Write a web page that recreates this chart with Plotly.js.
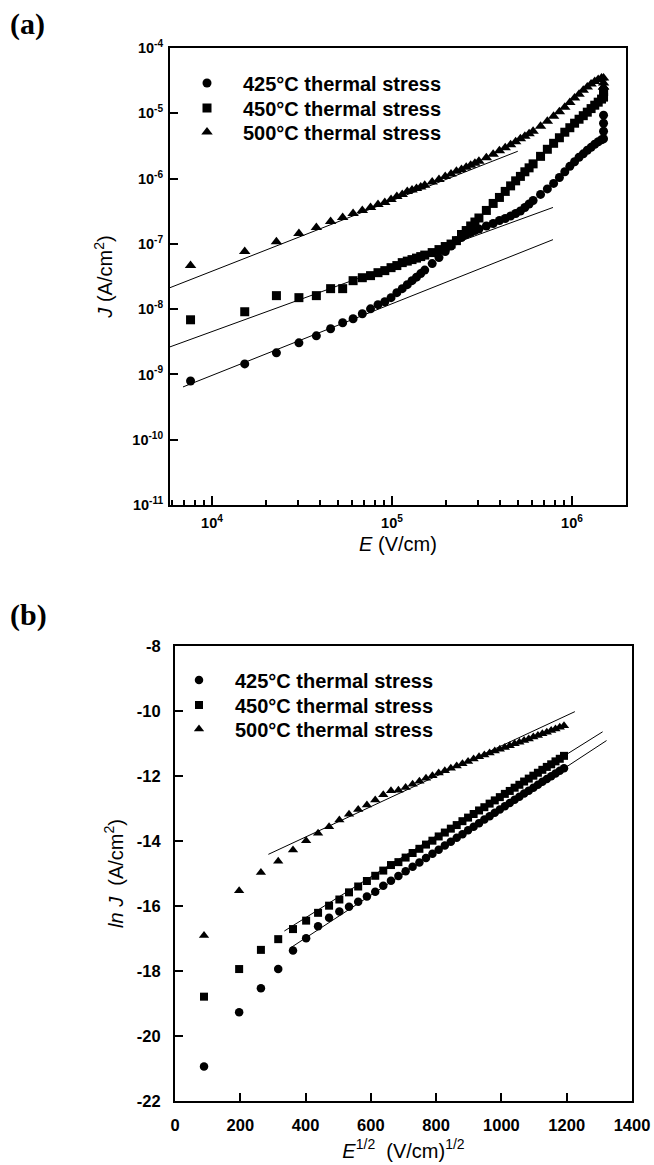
<!DOCTYPE html>
<html><head><meta charset="utf-8">
<script src="https://cdn.plot.ly/plotly-3.0.1.min.js"></script>
<style>html,body{margin:0;padding:0;background:#fff}</style>
</head><body>
<div id="chart" style="width:654px;height:1165px"></div>
<script>
// ---------- series names ----------
const seriesNames = ['425\u00B0C thermal stress', '450\u00B0C thermal stress', '500\u00B0C thermal stress'];

// ---------- panel (a): J vs E (log-log) ----------
const E_a = [7600, 15200, 22800, 30400, 38000, 45600, 53200, 60800, 68400, 76000,
  83600, 91200, 98800, 106400, 114000, 121600, 129200, 136800, 144400, 152000,
  167200, 182400, 197600, 212800, 228000, 243200, 258400, 273600, 288800, 304000,
  334400, 364800, 395200, 425600, 456000, 486400, 516800, 547200, 577600, 608000,
  668800, 729600, 790400, 851200, 912000, 972800, 1033600, 1094400, 1155200, 1216000,
  1276800, 1337600, 1398400, 1459200, 1497200];
const J425_a = [7.94e-10, 1.45e-9, 2.14e-9, 3.05e-9, 3.90e-9, 5.00e-9, 6.18e-9, 7.13e-9, 8.49e-9, 1.01e-8,
  1.17e-8, 1.30e-8, 1.50e-8, 1.79e-8, 2.06e-8, 2.37e-8, 2.73e-8, 3.09e-8, 3.50e-8, 3.96e-8,
  4.98e-8, 6.16e-8, 7.62e-8, 9.25e-8, 1.12e-7, 1.25e-7, 1.39e-7, 1.49e-7, 1.60e-7, 1.69e-7,
  1.88e-7, 2.05e-7, 2.28e-7, 2.45e-7, 2.67e-7, 2.92e-7, 3.19e-7, 3.61e-7, 4.08e-7, 4.62e-7,
  5.72e-7, 6.95e-7, 8.44e-7, 1.04e-6, 1.27e-6, 1.54e-6, 1.81e-6, 2.12e-6, 2.39e-6, 2.71e-6,
  3.01e-6, 3.35e-6, 3.66e-6, 3.93e-6, 4.07e-6];
const J450_a = [6.87e-9, 9.12e-9, 1.61e-8, 1.50e-8, 1.61e-8, 2.06e-8, 2.06e-8, 2.73e-8, 3.03e-8, 3.26e-8,
  3.62e-8, 3.89e-8, 4.32e-8, 4.65e-8, 5.16e-8, 5.44e-8, 5.74e-8, 6.05e-8, 6.38e-8, 6.73e-8,
  7.35e-8, 8.17e-8, 9.10e-8, 9.93e-8, 1.12e-7, 1.39e-7, 1.60e-7, 1.88e-7, 2.16e-7, 2.49e-7,
  3.25e-7, 4.16e-7, 5.14e-7, 6.36e-7, 7.73e-7, 9.23e-7, 1.08e-6, 1.27e-6, 1.46e-6, 1.68e-6,
  2.19e-6, 2.81e-6, 3.47e-6, 4.22e-6, 5.13e-6, 6.01e-6, 7.05e-6, 8.11e-6, 9.19e-6, 1.04e-5,
  1.18e-5, 1.33e-5, 1.48e-5, 1.65e-5, 1.77e-5];
const J500_a = [4.65e-8, 7.62e-8, 1.08e-7, 1.44e-7, 1.78e-7, 2.20e-7, 2.54e-7, 2.92e-7, 3.25e-7, 3.61e-7,
  4.02e-7, 4.31e-7, 4.79e-7, 5.33e-7, 5.71e-7, 6.36e-7, 6.70e-7, 7.07e-7, 7.46e-7, 7.87e-7,
  8.90e-7, 9.72e-7, 1.08e-6, 1.18e-6, 1.29e-6, 1.38e-6, 1.49e-6, 1.60e-6, 1.71e-6, 1.84e-6,
  2.08e-6, 2.35e-6, 2.66e-6, 2.96e-6, 3.30e-6, 3.66e-6, 4.07e-6, 4.45e-6, 4.86e-6, 5.31e-6,
  6.34e-6, 7.56e-6, 9.02e-6, 1.06e-5, 1.24e-5, 1.46e-5, 1.71e-5, 1.96e-5, 2.26e-5, 2.52e-5,
  2.80e-5, 3.06e-5, 3.28e-5, 3.46e-5, 3.46e-5];
// readings taken at the maximum field (vertical end of each curve)
const Ehook_a = [1497200, 1497200, 1497200];
const J425_hook = [5.31e-6, 7.05e-6, 9.35e-6];
const J450_hook = [2.11e-5, 2.11e-5, 2.11e-5];
const J500_hook = [2.90e-5, 2.52e-5, 2.52e-5];
// fitted straight lines (two end points each)
const fitE425_a = [6900, 784000];   const fitJ425_a = [6.43e-10, 1.16e-7];
const fitE450_a = [5840, 784000];   const fitJ450_a = [2.64e-9, 3.61e-7];
const fitE500_a = [5840, 500000];   const fitJ500_a = [2.13e-8, 2.62e-6];
const xTicks_a = [1e4, 1e5, 1e6];
const xTickText_a = ['<b>10<sup>4</sup></b>', '<b>10<sup>5</sup></b>', '<b>10<sup>6</sup></b>'];
const xMinor_a = [6000, 7000, 8000, 9000, 20000, 30000, 40000, 50000, 60000, 70000, 80000, 90000,
  200000, 300000, 400000, 500000, 600000, 700000, 800000, 900000];
const yTicks_a = [1e-11, 1e-10, 1e-9, 1e-8, 1e-7, 1e-6, 1e-5, 1e-4];
const yTickText_a = ['<b>10<sup>-11</sup></b>', '<b>10<sup>-10</sup></b>', '<b>10<sup>-9</sup></b>', '<b>10<sup>-8</sup></b>',
  '<b>10<sup>-7</sup></b>', '<b>10<sup>-6</sup></b>', '<b>10<sup>-5</sup></b>', '<b>10<sup>-4</sup></b>'];

// ---------- panel (b): ln J vs E^1/2 ----------
const Eroot_b = [88.9, 196.5, 263.2, 316.2, 361.5, 401.7, 438.3, 472.0, 503.5, 533.1,
  561.2, 587.9, 613.4, 638.0, 661.6, 684.4, 706.5, 727.9, 748.7, 768.9,
  788.6, 807.8, 826.6, 845.0, 863.0, 880.6, 897.8, 914.8, 931.4, 947.7,
  963.8, 979.6, 995.1, 1010.4, 1025.5, 1040.4, 1055.0, 1069.5, 1083.7, 1097.8,
  1111.7, 1125.4, 1139.0, 1152.4, 1165.6, 1178.7, 1191.7];
const lnJ425_b = [-20.94, -19.27, -18.53, -17.94, -17.37, -16.99, -16.62, -16.36, -16.17, -16.02,
  -15.87, -15.71, -15.56, -15.38, -15.22, -15.08, -14.93, -14.79, -14.66, -14.52,
  -14.39, -14.27, -14.14, -14.02, -13.90, -13.79, -13.67, -13.56, -13.45, -13.34,
  -13.24, -13.13, -13.03, -12.93, -12.83, -12.73, -12.64, -12.54, -12.45, -12.36,
  -12.27, -12.18, -12.09, -12.01, -11.92, -11.84, -11.76];
const lnJ450_b = [-18.79, -17.94, -17.35, -17.02, -16.71, -16.45, -16.21, -15.99, -15.80, -15.58,
  -15.40, -15.23, -15.07, -14.91, -14.74, -14.65, -14.51, -14.37, -14.24, -14.11,
  -13.99, -13.86, -13.74, -13.62, -13.51, -13.39, -13.28, -13.17, -13.06, -12.96,
  -12.85, -12.75, -12.65, -12.55, -12.46, -12.36, -12.27, -12.17, -12.08, -11.99,
  -11.90, -11.81, -11.72, -11.64, -11.55, -11.47, -11.38];
const lnJ500_b = [-16.91, -15.53, -14.97, -14.62, -14.28, -13.99, -13.76, -13.56, -13.35, -13.18,
  -13.03, -12.89, -12.74, -12.58, -12.45, -12.44, -12.35, -12.25, -12.16, -12.07,
  -11.99, -11.91, -11.84, -11.76, -11.69, -11.62, -11.55, -11.48, -11.41, -11.35,
  -11.29, -11.23, -11.18, -11.12, -11.07, -11.01, -10.96, -10.91, -10.86, -10.80,
  -10.75, -10.70, -10.65, -10.60, -10.55, -10.50, -10.45];
const fitX425_b = [352, 1322];  const fitY425_b = [-17.30, -10.91];
const fitX450_b = [335, 1310];  const fitY450_b = [-16.77, -10.64];
const fitX500_b = [286, 1225];  const fitY500_b = [-14.41, -10.02];
const xTicks_b = [0, 200, 400, 600, 800, 1000, 1200, 1400];
const xTickText_b = ['<b>0</b>', '<b>200</b>', '<b>400</b>', '<b>600</b>', '<b>800</b>', '<b>1000</b>', '<b>1200</b>', '<b>1400</b>'];
const yTicks_b = [-22, -20, -18, -16, -14, -12, -10, -8];
const yTickText_b = ['<b>-22</b>', '<b>-20</b>', '<b>-18</b>', '<b>-16</b>', '<b>-14</b>', '<b>-12</b>', '<b>-10</b>', '<b>-8</b>'];

// ---------- styling ----------
const W = 654, H = 1165;
const FONT = 'Arial, "Liberation Sans", sans-serif';
const symbols = ['circle', 'square', 'triangle-up'];
const sizesA = [9, 9, 10];
const sizesB = [8.5, 8, 9];
// one single-item legend per entry so each row sits where the reference puts it
const legendIdsA = ['legend', 'legend2', 'legend3'];
const legendIdsB = ['legend4', 'legend5', 'legend6'];
const legendRowsA = [83, 108, 132];
const legendRowsB = [680, 705, 729];

function markerTrace(x, y, i, xa, ya, leg, size) {
  return {x: x, y: y, type: 'scatter', mode: 'markers', name: seriesNames[i],
    xaxis: xa, yaxis: ya, legend: leg, showlegend: true,
    marker: {symbol: symbols[i], size: size, color: '#000', line: {width: 0}},
    hoverinfo: 'skip'};
}
function fitTrace(x, y, xa, ya) {
  return {x: x, y: y, type: 'scatter', mode: 'lines', xaxis: xa, yaxis: ya,
    showlegend: false, line: {color: '#000', width: 1}, hoverinfo: 'skip'};
}

const traces = [
  fitTrace(fitE425_a, fitJ425_a, 'x', 'y'),
  fitTrace(fitE450_a, fitJ450_a, 'x', 'y'),
  fitTrace(fitE500_a, fitJ500_a, 'x', 'y'),
  markerTrace(E_a.concat(Ehook_a), J425_a.concat(J425_hook), 0, 'x', 'y', legendIdsA[0], sizesA[0]),
  markerTrace(E_a.concat(Ehook_a), J450_a.concat(J450_hook), 1, 'x', 'y', legendIdsA[1], sizesA[1]),
  markerTrace(E_a.concat(Ehook_a), J500_a.concat(J500_hook), 2, 'x', 'y', legendIdsA[2], sizesA[2]),
  fitTrace(fitX425_b, fitY425_b, 'x2', 'y2'),
  fitTrace(fitX450_b, fitY450_b, 'x2', 'y2'),
  fitTrace(fitX500_b, fitY500_b, 'x2', 'y2'),
  markerTrace(Eroot_b, lnJ425_b, 0, 'x2', 'y2', legendIdsB[0], sizesB[0]),
  markerTrace(Eroot_b, lnJ450_b, 1, 'x2', 'y2', legendIdsB[1], sizesB[1]),
  markerTrace(Eroot_b, lnJ500_b, 2, 'x2', 'y2', legendIdsB[2], sizesB[2])
];

const tickFontA = {family: FONT, size: 14.5, color: '#000', weight: 'bold'};
const tickFontB = {family: FONT, size: 16.5, color: '#000', weight: 'bold'};
const titleFont = {family: FONT, size: 20, color: '#000'};
const common = {showline: true, linewidth: 2, linecolor: '#000', mirror: true,
  showgrid: false, zeroline: false, ticks: 'inside', tickwidth: 2, tickcolor: '#000',
  automargin: false};

function legendAt(xpx, ypx) {
  return {x: xpx / W, y: 1 - ypx / H, xanchor: 'left', yanchor: 'middle',
    bgcolor: 'rgba(0,0,0,0)', borderwidth: 0,
    font: {family: FONT, size: 20, color: '#000', weight: 700},
    itemwidth: 62, tracegroupgap: 0};
}

const layout = {
  width: W, height: H, margin: {l: 0, r: 0, t: 0, b: 0},
  paper_bgcolor: '#fff', plot_bgcolor: '#fff', showlegend: true,
  xaxis: Object.assign({}, common, {
    domain: [170 / W, 626 / W], anchor: 'y', type: 'log', tickfont: tickFontA,
    range: [3.7667, 6.3], tickmode: 'array', tickvals: xTicks_a, ticktext: xTickText_a,
    ticklen: 9, ticklabelstandoff: 4,
    minor: {tickmode: 'array', tickvals: xMinor_a, ticks: 'inside', ticklen: 5, tickwidth: 1.5, tickcolor: '#000'},
    title: {text: '<i>E</i> (V/cm)', font: titleFont, standoff: 7}
  }),
  yaxis: Object.assign({}, common, {
    domain: [1 - 505 / H, 1 - 48 / H], anchor: 'x', type: 'log', tickfont: tickFontA,
    range: [-11, -4], tickmode: 'array', tickvals: yTicks_a, ticktext: yTickText_a,
    ticklen: 8, ticklabelstandoff: 2,
    title: {text: '<i>J</i> (A/cm<sup>2</sup>)', font: titleFont, standoff: 14}
  }),
  xaxis2: Object.assign({}, common, {
    domain: [175 / W, 632 / W], anchor: 'y2', tickfont: tickFontB,
    range: [0, 1400], tickmode: 'array', tickvals: xTicks_b, ticktext: xTickText_b,
    ticklen: 8, ticklabelstandoff: 8,
    title: {text: '<i>E</i><sup>1/2</sup>\u00A0 (V/cm)<sup>1/2</sup>', font: titleFont, standoff: 11}
  }),
  yaxis2: Object.assign({}, common, {
    domain: [1 - 1101 / H, 1 - 646 / H], anchor: 'x2', tickfont: tickFontB,
    range: [-22, -8], tickmode: 'array', tickvals: yTicks_b, ticktext: yTickText_b,
    ticklen: 8, ticklabelstandoff: 9,
    title: {text: '<i>ln J</i>\u00A0 (A/cm<sup>2</sup>)', font: titleFont, standoff: 8}
  }),
  legend: legendAt(171, legendRowsA[0]),
  legend2: legendAt(171, legendRowsA[1]),
  legend3: legendAt(171, legendRowsA[2]),
  legend4: legendAt(163, legendRowsB[0]),
  legend5: legendAt(163, legendRowsB[1]),
  legend6: legendAt(163, legendRowsB[2]),
  annotations: [
    {text: '<b>(a)</b>', xref: 'paper', yref: 'paper', x: 8 / W, y: 1 - 24 / H,
     xanchor: 'left', yanchor: 'middle', showarrow: false,
     font: {family: '"Liberation Serif", "Times New Roman", serif', size: 30, color: '#000'}},
    {text: '<b>(b)</b>', xref: 'paper', yref: 'paper', x: 8 / W, y: 1 - 615 / H,
     xanchor: 'left', yanchor: 'middle', showarrow: false,
     font: {family: '"Liberation Serif", "Times New Roman", serif', size: 30, color: '#000'}}
  ]
};

Plotly.newPlot('chart', traces, layout, {displayModeBar: false});
</script>
</body></html>
